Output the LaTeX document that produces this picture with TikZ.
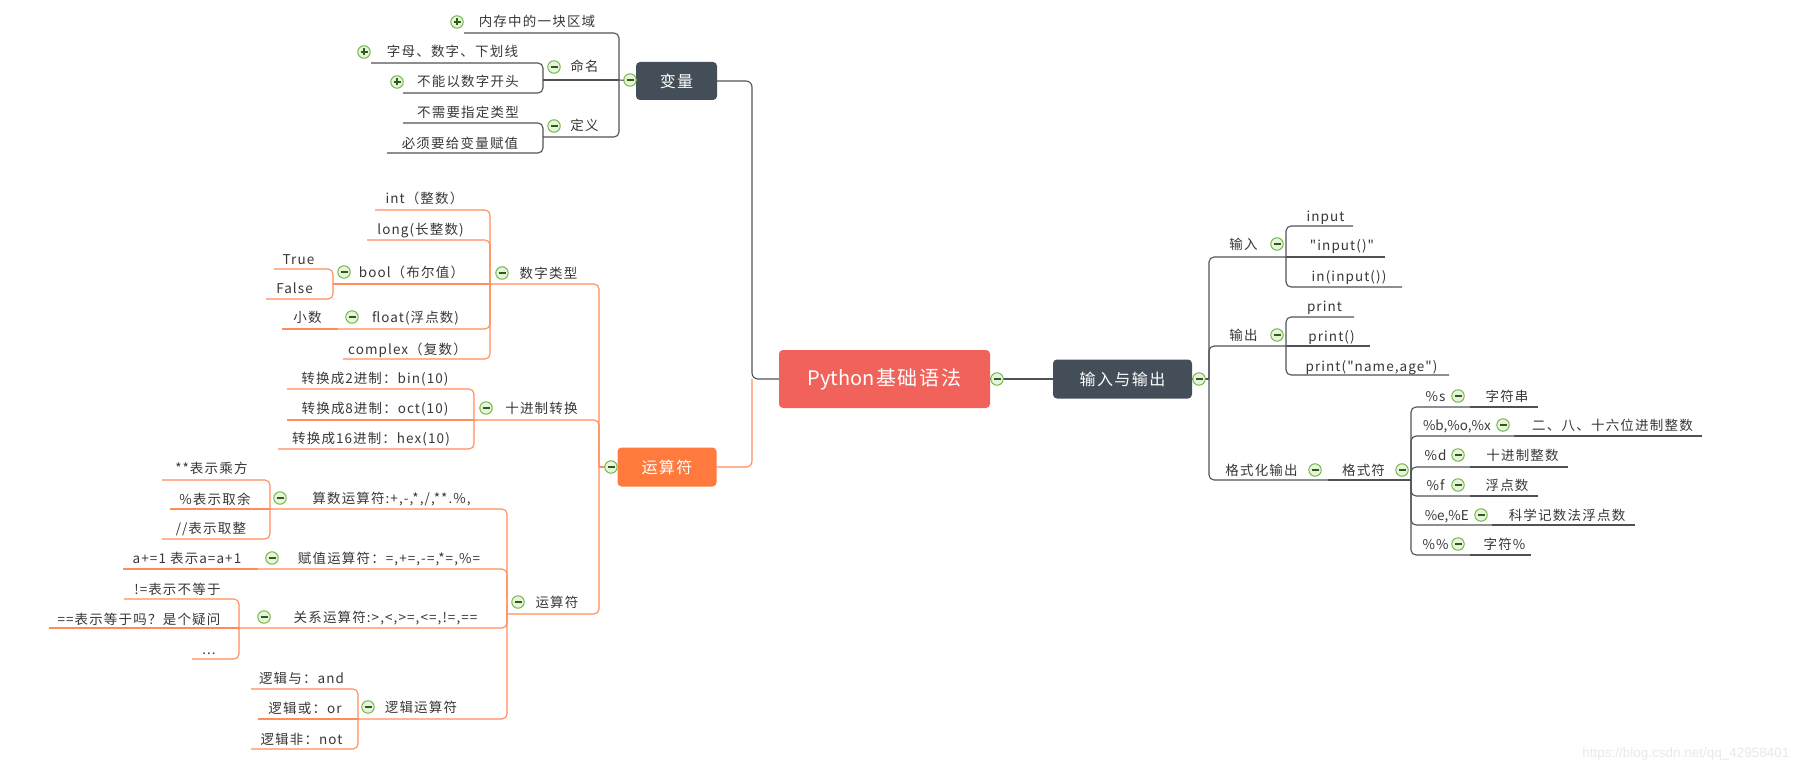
\documentclass[tikz,border=0pt]{standalone}
\usepackage{fontspec}
\setmainfont{Noto Sans CJK SC}
\newfontfamily\lblfont{Noto Sans CJK SC}[LetterSpace=8]
\newfontfamily\tightfont{Noto Sans CJK SC}
\newfontfamily\markfont{Liberation Sans}
% wider gaps between CJK characters only
\XeTeXinterchartokenstate=1
\newXeTeXintercharclass\cjkclass
\count255="3000 \loop \XeTeXcharclass\count255=\cjkclass \ifnum\count255<"303F \advance\count255 by 1 \repeat
\count255="4E00 \loop \XeTeXcharclass\count255=\cjkclass \ifnum\count255<"9FFF \advance\count255 by 1 \repeat
\count255="FF00 \loop \XeTeXcharclass\count255=\cjkclass \ifnum\count255<"FFEF \advance\count255 by 1 \repeat
\XeTeXinterchartoks\cjkclass\cjkclass={\kern0.09em}
\XeTeXinterchartoks0\cjkclass={\kern0.07em}
\XeTeXinterchartoks\cjkclass0={\kern0.07em}
\definecolor{box_dark}{RGB}{67,78,88}
\definecolor{box_root}{RGB}{240,98,90}
\definecolor{box_orange}{RGB}{255,122,60}
\definecolor{edge_dark}{RGB}{78,82,88}
\definecolor{edge_orange}{RGB}{255,140,90}
\definecolor{fold_green}{RGB}{104,178,58}
\definecolor{fold_fill}{RGB}{230,244,220}
\definecolor{fold_dark}{RGB}{50,90,30}
\definecolor{text_gray}{RGB}{55,55,55}
\definecolor{mark_gray}{RGB}{232,232,232}

\begin{document}
\begin{tikzpicture}[x=1pt,y=-1pt]
    \tikzstyle{box}=[rounded corners=4pt, text=white, font=\fontsize{16}{18}\selectfont, inner sep=0pt]
    \tikzstyle{lbl}=[inner sep=0pt, text height=11pt, text depth=1pt, text=text_gray, font=\lblfont\fontsize{13.5}{15}\selectfont]
    \tikzstyle{fold}=[circle, draw=fold_green, fill=fold_fill, line width=0.9pt, minimum size=12.5pt, inner sep=0pt,
      path picture={\draw[line width=1.3pt,fold_dark] ([xshift=-3.5pt]path picture bounding box.center) -- ([xshift=3.5pt]path picture bounding box.center);}]
    \tikzstyle{unfold}=[circle, draw=fold_green, fill=fold_fill, line width=0.9pt, minimum size=12.5pt, inner sep=0pt,
      path picture={\draw[line width=1.3pt,fold_dark] ([xshift=-3.5pt]path picture bounding box.center) -- ([xshift=3.5pt]path picture bounding box.center)
        ([yshift=-3.5pt]path picture bounding box.center) -- ([yshift=3.5pt]path picture bounding box.center);}]
    \tikzstyle{dline}=[edge_dark, line width=1.1pt]
    \tikzstyle{oline}=[edge_orange, line width=1.1pt]
    \tikzstyle{brk}=[rounded corners=5pt, to path={-- (\tikztostart |- \tikztotarget) -- (\tikztotarget)}]

    \useasboundingbox (0,0) rectangle (1801,773);

    % centre
    \node[box, fill=box_root, minimum width=211pt, minimum height=58pt, font=\fontsize{20}{22}\selectfont] (root) at (884.5,379) {Python基础语法};
    \node[box, fill=box_dark, minimum width=81pt, minimum height=38pt] (var) at (676.5,81) {变量};
    \node[box, fill=box_orange, minimum width=99pt, minimum height=39pt] (op) at (667,467) {运算符};
    \node[box, fill=box_dark, minimum width=139pt, minimum height=39pt] (io) at (1122.5,379) {输入与输出};
    \coordinate (jl) at (752,379);

    % variables
    \coordinate (var-l) at (619,80);
    \node[lbl] (mem) at (537,22) {内存中的一块区域};      \coordinate (mem-l) at (464,33);
    \node[lbl] (nm) at (584.5,67) {命名};                 \coordinate (nm-l) at (543,80);
    \node[lbl] (zm) at (452.5,52) {字母、数字、下划线};    \coordinate (zm-l) at (371,63);
    \node[lbl] (bn) at (468,82) {不能以数字开头};          \coordinate (bn-l) at (403,93);
    \node[lbl] (df) at (584.5,126) {定义};                \coordinate (df-l) at (543,137);
    \node[lbl] (bx) at (468,113) {不需要指定类型};         \coordinate (bx-l) at (403,123);
    \node[lbl] (bs) at (460,143) {必须要给变量赋值};       \coordinate (bs-l) at (387,153);

    % operators
    \coordinate (op-l) at (599,467);
    \node[lbl] (num) at (548.5,273) {数字类型};           \coordinate (num-l) at (490,284);
    \node[lbl] (int) at (424.5,198) {int（整数）};        \coordinate (int-l) at (375,210);
    \node[lbl] (lng) at (420.5,229) {long(长整数)};       \coordinate (lng-l) at (367,240);
    \node[lbl] (bool) at (411.5,272) {bool（布尔值）};    \coordinate (bool-l) at (333,284);
    \node[lbl] (tru) at (298.5,259) {True};              \coordinate (tru-l) at (274,269);
    \node[lbl] (fls) at (294.5,288) {False};             \coordinate (fls-l) at (266,299);
    \node[lbl] (flt) at (415.5,317) {float(浮点数)};      \coordinate (flt-l) at (338,329);
    \node[lbl] (xs) at (307.5,317) {小数};                \coordinate (xs-l) at (282,329);
    \node[lbl] (cpx) at (407.5,349) {complex（复数）};    \coordinate (cpx-l) at (343,359);

    \node[lbl] (dec) at (541.5,408) {十进制转换};          \coordinate (dec-l) at (474,420);
    \node[lbl] (b2) at (375,378) {转换成2进制：bin(10)};   \coordinate (b2-l) at (287,389);
    \node[lbl] (b8) at (375,408) {转换成8进制：oct(10)};   \coordinate (b8-l) at (287,420);
    \node[lbl] (b16) at (371,438) {转换成16进制：hex(10)}; \coordinate (b16-l) at (278,449);

    \node[lbl] (ops) at (557,602) {运算符};               \coordinate (ops-l) at (507,614);
    \node[lbl] (ar) at (391.5,498) {算数运算符:+,-,*,/,**.\%,}; \coordinate (ar-l) at (270,509);
    \node[lbl] (pw) at (211.5,468) {**表示乘方};          \coordinate (pw-l) at (162,480);
    \node[lbl] (md) at (215,499) {\%表示取余};            \coordinate (md-l) at (170,509);
    \node[lbl] (fd) at (211,528) {//表示取整};            \coordinate (fd-l) at (162,539);
    \node[lbl] (as) at (389,558) {赋值运算符：=,+=,-=,*=,\%=}; \coordinate (as-l) at (258,569);
    \node[lbl] (inc) at (187,558) {a+=1 表示a=a+1};       \coordinate (inc-l) at (123,569);
    \node[lbl] (rel) at (385.5,617) {关系运算符:>,<,>=,<=,!=,==}; \coordinate (rel-l) at (239,628);
    \node[lbl] (ne) at (177.5,589) {!=表示不等于};         \coordinate (ne-l) at (124,599);
    \node[lbl] (eq) at (139,619) {==表示等于吗？是个疑问};  \coordinate (eq-l) at (49,628);
    \node[lbl] (dots) at (209,649) {...};                \coordinate (dots-l) at (192,659);
    \node[lbl] (lg) at (421,707) {逻辑运算符};            \coordinate (lg-l) at (358,719);
    \node[lbl] (land) at (301.5,678) {逻辑与：and};       \coordinate (land-l) at (251,689);
    \node[lbl] (lor) at (305,708) {逻辑或：or};           \coordinate (lor-l) at (258,719);
    \node[lbl] (lnot) at (301.5,739) {逻辑非：not};       \coordinate (lnot-l) at (251,749);

    % input and output
    \coordinate (io-r) at (1209,379);
    \node[lbl] (inp) at (1243.5,244) {输入};              \coordinate (inp-r) at (1286,257);
    \node[lbl] (i1) at (1325.5,216) {input};             \coordinate (i1-r) at (1353,226);
    \node[lbl] (i2) at (1342,245) {"input()"};           \coordinate (i2-r) at (1385,257);
    \node[lbl] (i3) at (1349,276) {in(input())};         \coordinate (i3-r) at (1402,287);
    \node[lbl] (out) at (1243.5,335) {输出};              \coordinate (out-r) at (1286,346);
    \node[lbl] (o1) at (1324.5,306) {print};             \coordinate (o1-r) at (1354,317);
    \node[lbl] (o2) at (1331.5,336) {print()};           \coordinate (o2-r) at (1370,346);
    \node[lbl] (o3) at (1371.5,366) {print("name,age")}; \coordinate (o3-r) at (1449,375);
    \node[lbl] (fmt) at (1261.5,470) {格式化输出};         \coordinate (fmt-r) at (1328,480);
    \node[lbl] (fs) at (1363.5,470) {格式符};             \coordinate (fs-r) at (1411,480);
    \node[lbl] (s) at (1435.5,396) {\%s};                \coordinate (s-r) at (1470,407);
    \node[lbl] (s1) at (1507,396) {字符串};               \coordinate (s1-r) at (1538,407);
    \node[lbl, anchor=east, font=\tightfont\fontsize{13.5}{15}\selectfont] (b) at (1491,425) {\%b,\%o,\%x}; \coordinate (b-r) at (1514,436);
    \node[lbl] (b1) at (1612.5,425) {二、八、十六位进制整数}; \coordinate (b1-r) at (1702,436);
    \node[lbl] (d) at (1435.5,455) {\%d};                \coordinate (d-r) at (1470,467);
    \node[lbl] (d1) at (1522.5,455) {十进制整数};          \coordinate (d1-r) at (1568,467);
    \node[lbl] (f) at (1435.5,485) {\%f};                \coordinate (f-r) at (1470,496);
    \node[lbl] (f1) at (1507,485) {浮点数};               \coordinate (f1-r) at (1538,496);
    \node[lbl, anchor=east, font=\tightfont\fontsize{13.5}{15}\selectfont] (e) at (1469,515) {\%e,\%E}; \coordinate (e-r) at (1492,525);
    \node[lbl] (e1) at (1567,515) {科学记数法浮点数};       \coordinate (e1-r) at (1635,525);
    \node[lbl] (pc) at (1435.5,544) {\%\%};              \coordinate (pc-r) at (1470,555);
    \node[lbl] (pc1) at (1504.5,544) {字符\%};            \coordinate (pc1-r) at (1531,555);

    \node[font=\markfont\fontsize{13.5}{15}\selectfont, text=mark_gray, anchor=east] (wm) at (1793,754) {https://blog.csdn.net/qq\_42958401};

    % connectors
    \draw[dline, rounded corners=6pt] (var.east) -| (jl) -- (root.west);
    \draw[oline, rounded corners=6pt] (op.east) -| (jl);
    \draw[dline] (root.east) -- (io.west);

    \path[dline]
     (var-l) edge (var.west)
     (var-l) edge[brk] (mem-l)
     (var-l) edge (nm-l)
     (var-l) edge[brk] (df-l)
     (nm-l) edge[brk] (zm-l)
     (nm-l) edge[brk] (bn-l)
     (df-l) edge[brk] (bx-l)
     (df-l) edge[brk] (bs-l)
     ;

    \path[oline]
     (op-l) edge (op.west)
     (op-l) edge[brk] (num-l)
     (op-l) edge[brk] (dec-l)
     (op-l) edge[brk] (ops-l)
     (num-l) edge[brk] (int-l)
     (num-l) edge[brk] (lng-l)
     (num-l) edge (bool-l)
     (num-l) edge[brk] (flt-l)
     (num-l) edge[brk] (cpx-l)
     (bool-l) edge[brk] (tru-l)
     (bool-l) edge[brk] (fls-l)
     (flt-l) edge (xs-l)
     (dec-l) edge[brk] (b2-l)
     (dec-l) edge (b8-l)
     (dec-l) edge[brk] (b16-l)
     (ops-l) edge[brk] (ar-l)
     (ops-l) edge[brk] (as-l)
     (ops-l) edge[brk] (rel-l)
     (ops-l) edge[brk] (lg-l)
     (ar-l) edge[brk] (pw-l)
     (ar-l) edge (md-l)
     (ar-l) edge[brk] (fd-l)
     (as-l) edge (inc-l)
     (rel-l) edge[brk] (ne-l)
     (rel-l) edge (eq-l)
     (rel-l) edge[brk] (dots-l)
     (lg-l) edge[brk] (land-l)
     (lg-l) edge (lor-l)
     (lg-l) edge[brk] (lnot-l)
     ;

    \path[dline]
     (io.east) edge (io-r)
     (io-r) edge[brk] (inp-r)
     (io-r) edge[brk] (out-r)
     (io-r) edge[brk] (fmt-r)
     (fmt-r) edge (fs-r)
     (inp-r) edge[brk] (i1-r)
     (inp-r) edge (i2-r)
     (inp-r) edge[brk] (i3-r)
     (out-r) edge[brk] (o1-r)
     (out-r) edge (o2-r)
     (out-r) edge[brk] (o3-r)
     (fs-r) edge[brk] (s-r)
     (fs-r) edge[brk] (b-r)
     (fs-r) edge[brk] (d-r)
     (fs-r) edge[brk] (f-r)
     (fs-r) edge[brk] (e-r)
     (fs-r) edge[brk] (pc-r)
     (s-r) edge (s1-r)
     (b-r) edge (b1-r)
     (d-r) edge (d1-r)
     (f-r) edge (f1-r)
     (e-r) edge (e1-r)
     (pc-r) edge (pc1-r)
     ;

    % fold marks
    \node[fold] (root-f) at (997,379) {};
    \node[fold] (var-f) at (630,80) {};
    \node[fold] (op-f) at (611,467) {};
    \node[fold] (io-f) at (1199,379) {};
    \node[unfold] (mem-f) at (457,22) {};
    \node[fold] (nm-f) at (554,67) {};
    \node[unfold] (zm-f) at (364,52) {};
    \node[unfold] (bn-f) at (397,82) {};
    \node[fold] (df-f) at (554,126) {};
    \node[fold] (num-f) at (502,273) {};
    \node[fold] (bool-f) at (344,272) {};
    \node[fold] (flt-f) at (352,317) {};
    \node[fold] (dec-f) at (486,408) {};
    \node[fold] (ops-f) at (518,602) {};
    \node[fold] (ar-f) at (280,498) {};
    \node[fold] (as-f) at (272,558) {};
    \node[fold] (rel-f) at (264,617) {};
    \node[fold] (lg-f) at (368,707) {};
    \node[fold] (inp-f) at (1277,244) {};
    \node[fold] (out-f) at (1277,335) {};
    \node[fold] (fmt-f) at (1315,470) {};
    \node[fold] (fs-f) at (1402,470) {};
    \node[fold] (s-f) at (1458,396) {};
    \node[fold] (b-f) at (1503,425) {};
    \node[fold] (d-f) at (1458,455) {};
    \node[fold] (f-f) at (1458,485) {};
    \node[fold] (e-f) at (1481,515) {};
    \node[fold] (pc-f) at (1458,544) {};
\end{tikzpicture}
\end{document}
